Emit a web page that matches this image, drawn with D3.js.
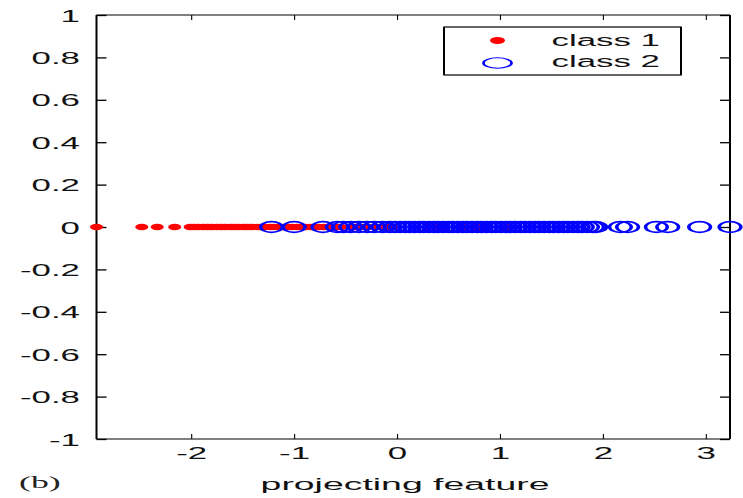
<!DOCTYPE html>
<html><head><meta charset="utf-8">
<script src="https://cdn.jsdelivr.net/npm/d3@7"></script>
<style>html,body{margin:0;padding:0;background:#fff;} svg{display:block}</style>
</head><body>
<svg id="c" width="743" height="498"></svg>
<script>
// class 1 (red dots), positions along the projecting feature
const class1 = [-2.92, -2.48, -2.33, -2.16, -2.01, -1.97, -1.93, -1.88, -1.84, -1.80, -1.75, -1.71,
  -1.67, -1.62, -1.58, -1.54, -1.49, -1.45, -1.41, -1.36, -1.32, -1.28, -1.23, -1.19, -1.15,
  -1.10, -1.06, -1.02, -0.97, -0.93, -0.89, -0.84, -0.80, -0.76, -0.71, -0.67, -0.63, -0.59,
  -0.55, -0.46, -0.41, -0.36, -0.30, -0.22, -0.10, -0.05, 0.30, 0.41, 0.46, 0.63, 0.78, 0.87, 1.06];
// class 2 (blue circles)
const class2 = [-1.22, -1.00, -0.72, -0.58, -0.52, -0.45, -0.37, -0.29, -0.22, -0.14, -0.07, -0.02,
  0.03, 0.08, 0.12, 0.17, 0.22, 0.26, 0.31, 0.36, 0.40, 0.45, 0.50, 0.54, 0.59, 0.64, 0.68, 0.73,
  0.78, 0.82, 0.87, 0.92, 0.96, 1.01, 1.06, 1.10, 1.15, 1.20, 1.24, 1.29, 1.34, 1.38, 1.43, 1.48,
  1.52, 1.57, 1.62, 1.66, 1.71, 1.76, 1.80, 1.85, 1.90, 1.93, 2.17, 2.24, 2.52, 2.63, 2.94, 3.235];
const xTicks = [-2, -1, 0, 1, 2, 3];
const xTickLabels = ["-2", "-1", "0", "1", "2", "3"];
const yTicks = [-1, -0.8, -0.6, -0.4, -0.2, 0, 0.2, 0.4, 0.6, 0.8, 1];
const yTickLabels = ["-1", "-0.8", "-0.6", "-0.4", "-0.2", "0", "0.2", "0.4", "0.6", "0.8", "1"];
const legendLabels = ["class 1", "class 2"];
const xLabel = "projecting feature";
const panelLabel = "(b)";

const SX = 2.05; // horizontal stretch of the original picture
const L = 96.5, R = 730, T = 15, B = 439;
const x = d3.scaleLinear().domain([-2.92, 3.235]).range([L, R]);
const y = d3.scaleLinear().domain([-1, 1]).range([B, T]);
const svg = d3.select("#c");
const font = "'Liberation Sans', Arial, Helvetica, sans-serif";

// axes (ticks inward on all four sides)
const gB = svg.append("g").attr("transform", `translate(0,${B})`)
  .call(d3.axisBottom(x).tickValues(xTicks).tickSize(-5).tickFormat((d, i) => xTickLabels[i]));
const gT = svg.append("g").attr("transform", `translate(0,${T})`)
  .call(d3.axisTop(x).tickValues(xTicks).tickSize(-5).tickFormat(""));
const gL = svg.append("g").attr("transform", `translate(${L},0)`)
  .call(d3.axisLeft(y).tickValues(yTicks).tickSize(-10).tickFormat((d, i) => yTickLabels[i]));
const gR = svg.append("g").attr("transform", `translate(${R},0)`)
  .call(d3.axisRight(y).tickValues(yTicks).tickSize(-10).tickFormat(""));
[gB, gT, gL, gR].forEach(g => {
  g.select(".domain").remove();
  g.selectAll(".tick line").attr("stroke", "#000").attr("stroke-width", 1.1);
});
gL.selectAll(".tick line").attr("stroke-width", 1.3);
gR.selectAll(".tick line").attr("stroke-width", 1.3);
gB.selectAll(".tick text").attr("y", null).attr("dy", null)
  .attr("transform", `translate(0,20) scale(${SX},1)`)
  .attr("font-family", font).attr("font-size", 17).attr("fill", "#111");
gL.selectAll(".tick text").attr("x", null).attr("dy", null).attr("text-anchor", "end")
  .attr("transform", `translate(-16.5,6) scale(${SX},1)`)
  .attr("font-family", font).attr("font-size", 17).attr("fill", "#111");

// box
svg.append("line").attr("x1", L).attr("x2", R).attr("y1", T).attr("y2", T).attr("stroke", "#000").attr("stroke-width", 1.2);
svg.append("line").attr("x1", L).attr("x2", R).attr("y1", B).attr("y2", B).attr("stroke", "#000").attr("stroke-width", 1.2);
svg.append("line").attr("x1", L).attr("x2", L).attr("y1", T).attr("y2", B).attr("stroke", "#000").attr("stroke-width", 2);
svg.append("line").attr("x1", R).attr("x2", R).attr("y1", T).attr("y2", B).attr("stroke", "#000").attr("stroke-width", 2);

// class 1 markers
svg.append("g").selectAll("g").data(class1).join("g")
  .attr("transform", d => `translate(${x(d)},${y(0)}) scale(${SX},1)`)
  .append("circle").attr("r", 3.2).attr("fill", "#ff0000");
// class 2 markers
svg.append("g").selectAll("g").data(class2).join("g")
  .attr("transform", d => `translate(${x(d)},${y(0)}) scale(${SX},1)`)
  .append("circle").attr("r", 5.3).attr("fill", "none").attr("stroke", "#0000ff").attr("stroke-width", 1.7);

// legend
const lg = svg.append("g");
lg.append("rect").attr("x", 444).attr("y", 27).attr("width", 237).attr("height", 48)
  .attr("fill", "#fff").attr("stroke", "#000").attr("stroke-width", 1.2);
lg.append("line").attr("x1", 444).attr("x2", 444).attr("y1", 27).attr("y2", 75).attr("stroke", "#000").attr("stroke-width", 2);
lg.append("line").attr("x1", 681).attr("x2", 681).attr("y1", 27).attr("y2", 75).attr("stroke", "#000").attr("stroke-width", 2);
lg.append("g").attr("transform", `translate(497.5,40.5) scale(2.2,1)`)
  .append("circle").attr("r", 3.4).attr("fill", "#ff0000");
lg.append("g").attr("transform", `translate(497.5,63) scale(2.7,1)`)
  .append("circle").attr("r", 5.2).attr("fill", "none").attr("stroke", "#0000ff").attr("stroke-width", 1);
lg.selectAll("text").data(legendLabels).join("text")
  .attr("transform", (d, i) => `translate(551.5,${i === 0 ? 46 : 67}) scale(${SX},1)`)
  .attr("font-family", font).attr("font-size", 17).attr("fill", "#111").text(d => d);

// labels
svg.append("text").attr("transform", `translate(405,490) scale(2.2,1)`)
  .attr("text-anchor", "middle").attr("font-family", font).attr("font-size", 17).attr("fill", "#111").text(xLabel);
svg.append("text").attr("transform", `translate(19,488) scale(2.1,1)`)
  .attr("font-family", "'Liberation Serif', 'Times New Roman', serif").attr("font-size", 17).attr("fill", "#222").text(panelLabel);
</script>
</body></html>
